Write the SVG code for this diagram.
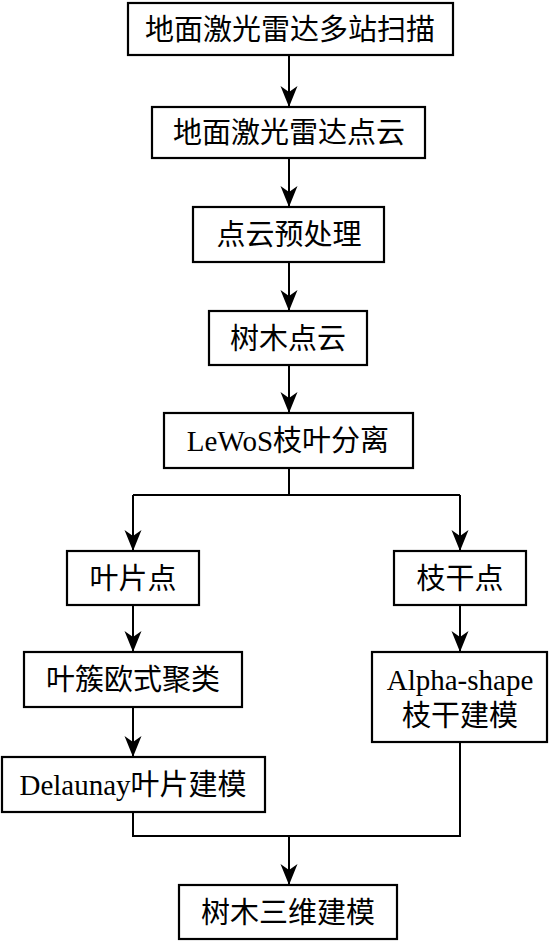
<svg xmlns="http://www.w3.org/2000/svg" width="549" height="943" viewBox="0 0 549 943">
<style>
.box{fill:#fff;stroke:#000;stroke-width:2.2}
.t{font-family:"Liberation Serif","Noto Sans CJK SC",serif;font-size:29px;fill:#000;text-anchor:middle}
.c{fill:none;stroke:#000;stroke-width:2}
</style>
<defs>
<marker id="ah" markerUnits="userSpaceOnUse" markerWidth="24" markerHeight="20" viewBox="-22 -10 24 20" refX="0" refY="0" orient="auto">
<path d="M0,0 L-21,-8.5 L-15,0 L-21,8.5 Z" fill="#000"/>
</marker>
</defs>
<rect width="549" height="943" fill="#fff"/>
<g id="connectors">
<line class="c" x1="289" y1="55" x2="289" y2="107" marker-end="url(#ah)"/>
<line class="c" x1="289" y1="158" x2="289" y2="207" marker-end="url(#ah)"/>
<line class="c" x1="289" y1="262" x2="289" y2="311" marker-end="url(#ah)"/>
<line class="c" x1="289" y1="365" x2="289" y2="413" marker-end="url(#ah)"/>
<polyline class="c" points="289,468 289,495"/>
<polyline class="c" points="133,495 460,495"/>
<line class="c" x1="133" y1="495" x2="133" y2="551" marker-end="url(#ah)"/>
<line class="c" x1="460" y1="495" x2="460" y2="551" marker-end="url(#ah)"/>
<line class="c" x1="133" y1="605" x2="133" y2="652" marker-end="url(#ah)"/>
<line class="c" x1="460" y1="605" x2="460" y2="652" marker-end="url(#ah)"/>
<line class="c" x1="133" y1="707" x2="133" y2="757" marker-end="url(#ah)"/>
<polyline class="c" points="133,812 133,836 460,836 460,742"/>
<line class="c" x1="289" y1="836" x2="289" y2="885" marker-end="url(#ah)"/>
</g>
<g id="n1"><rect class="box" x="128" y="3" width="325" height="52"/><text class="t" x="290" y="40">地面激光雷达多站扫描</text></g>
<g id="n2"><rect class="box" x="152" y="107" width="273" height="51"/><text class="t" x="289" y="143">地面激光雷达点云</text></g>
<g id="n3"><rect class="box" x="193" y="207" width="191" height="55"/><text class="t" x="289" y="245">点云预处理</text></g>
<g id="n4"><rect class="box" x="209" y="311" width="158" height="54"/><text class="t" x="288" y="349">树木点云</text></g>
<g id="n5"><rect class="box" x="164" y="413" width="249" height="55"/><text class="t" x="288" y="451">LeWoS枝叶分离</text></g>
<g id="n6"><rect class="box" x="67" y="551" width="132" height="54"/><text class="t" x="133" y="589">叶片点</text></g>
<g id="n7"><rect class="box" x="394" y="551" width="132" height="54"/><text class="t" x="460" y="589">枝干点</text></g>
<g id="n8"><rect class="box" x="24" y="652" width="218" height="55"/><text class="t" x="133" y="690">叶簇欧式聚类</text></g>
<g id="n9"><rect class="box" x="372" y="652" width="175" height="90"/><text class="t" x="460" y="690">Alpha-shape</text><text class="t" x="460" y="726">枝干建模</text></g>
<g id="n10"><rect class="box" x="2" y="757" width="263" height="55"/><text class="t" x="133" y="795">Delaunay叶片建模</text></g>
<g id="n11"><rect class="box" x="179" y="885" width="218" height="54"/><text class="t" x="288" y="923">树木三维建模</text></g>
</svg>
